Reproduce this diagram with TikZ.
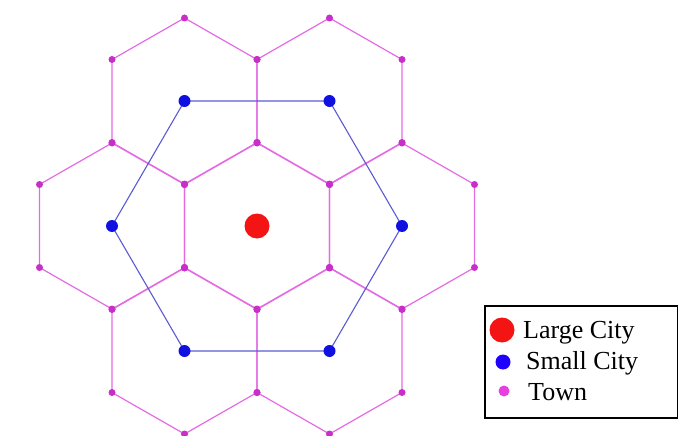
\documentclass[tikz,border=0pt]{standalone}
\usepackage{fontspec}
\setmainfont{Liberation Serif}
\usetikzlibrary{calc}
\definecolor{hexpink}{HTML}{E46AE4}
\definecolor{towncol}{HTML}{C82EC8}
\definecolor{bluecol}{HTML}{1010E0}
\definecolor{bluelin}{HTML}{5A5AD2}
\definecolor{redcol}{HTML}{F41414}
\definecolor{legtown}{HTML}{E840E0}
\tikzset{
  hexline/.style={draw=hexpink, line width=1.2pt},
  blueline/.style={draw=bluelin, line width=1.1pt},
  town/.style={circle, fill=towncol, inner sep=0pt, minimum size=7pt},
  smallcity/.style={circle, fill=bluecol, inner sep=0pt, minimum size=12pt},
  largecity/.style={circle, fill=redcol, inner sep=0pt, minimum size=25pt},
  legtext/.style={anchor=base west, inner sep=0pt, font=\fontsize{26}{30}\selectfont},
}
\begin{document}
\begin{tikzpicture}[x=1pt, y=-1pt]
\useasboundingbox (0,0) rectangle (678,436);
\coordinate (O) at (257,226);
% centres of the six small cities
\foreach \n/\dx/\dy in {1/-72.5/-125, 2/72.5/-125, 3/145/0, 4/72.5/125, 5/-72.5/125, 6/-145/0}{
  \coordinate (s\n) at ($(O)+(\dx,\dy)$);
}
% hexagons
\foreach \c in {O, s1, s2, s3, s4, s5, s6}{
  \foreach \k/\dx/\dy in {0/0/-83, 1/72.5/-41.5, 2/72.5/41.5, 3/0/83, 4/-72.5/41.5, 5/-72.5/-41.5}{
    \coordinate (v\c\k) at ($(\c)+(\dx,\dy)$);
  }
  \draw[hexline] (v\c0) -- (v\c1) -- (v\c2) -- (v\c3) -- (v\c4) -- (v\c5) -- cycle;
}
% blue hexagon of small cities
\draw[blueline] (s1) -- (s2) -- (s3) -- (s4) -- (s5) -- (s6) -- cycle;
% towns
\foreach \c in {O, s1, s2, s3, s4, s5, s6}{
  \foreach \k in {0,...,5}{
    \node[town] (t\c\k) at (v\c\k) {};
  }
}
% small cities
\foreach \n in {1,...,6}{
  \node[smallcity] (sc\n) at (s\n) {};
}
% large city
\node[largecity] (large) at (O) {};
% legend
\node[draw=black, line width=2pt, minimum width=193pt, minimum height=112pt, inner sep=0pt, anchor=north west] (legend) at (484,305) {};
\node[largecity] (lgL) at (502,330) {};
\node[legtext] (lgLt) at (523,338) {Large City};
\node[smallcity, minimum size=15pt, fill={rgb,255:red,32;green,0;blue,255}] (lgS) at (503,362) {};
\node[legtext] (lgSt) at (526,369) {Small City};
\node[town, fill=legtown, minimum size=11pt] (lgT) at (504,391) {};
\node[legtext] (lgTt) at (528,400) {Town};
\end{tikzpicture}
\end{document}
